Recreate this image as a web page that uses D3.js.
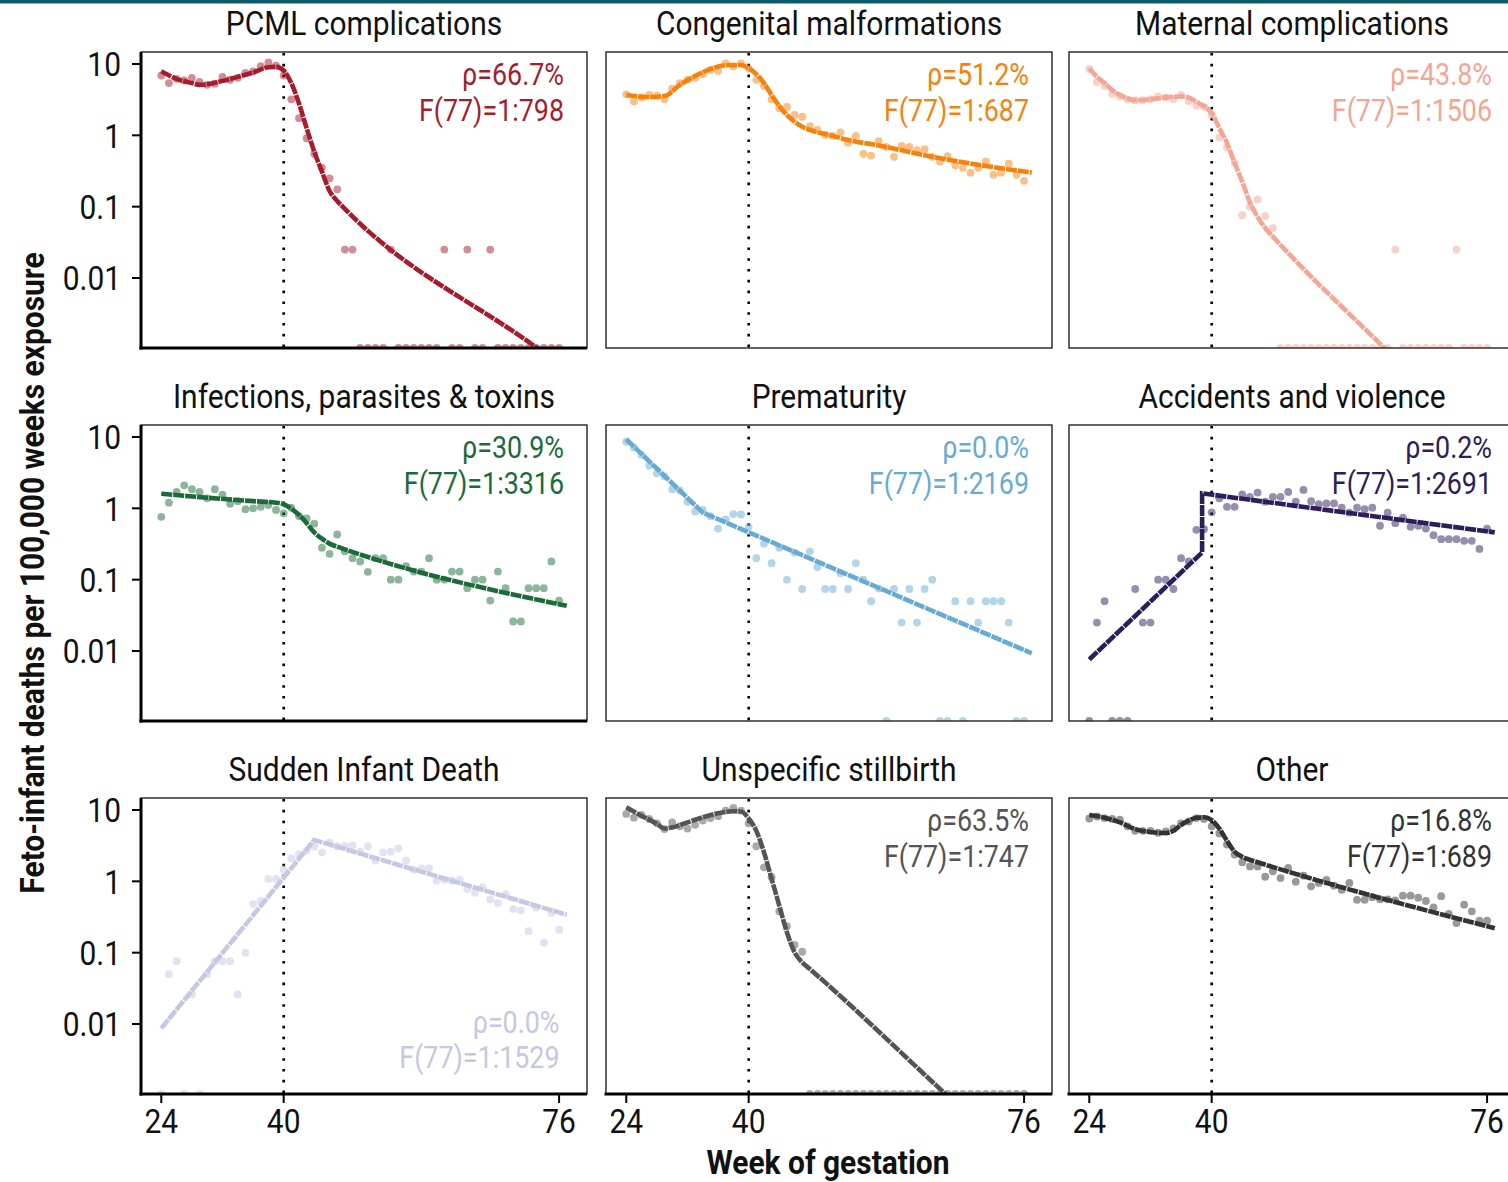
<!DOCTYPE html>
<html><head><meta charset="utf-8">
<script src="https://cdn.jsdelivr.net/npm/d3@7"></script>
<style>
body{margin:0;background:#fff}
text{font-family:Roboto,"Noto Sans",sans-serif}
</style>
</head><body>
<svg id="chart" width="1508" height="1182"></svg>
<script>
// ---------- data ----------
const weeks = [24,25,26,27,28,29,30,31,32,33,34,35,36,37,38,39,40,41,42,43,44,45,46,47,48,49,50,
  51,52,53,54,55,56,57,58,59,60,61,62,63,64,65,66,67,68,69,70,71,72,73,74,75,76];
const titles = ["PCML complications","Congenital malformations","Maternal complications",
  "Infections, parasites & toxins","Prematurity","Accidents and violence",
  "Sudden Infant Death","Unspecific stillbirth","Other"];
const rhoLabels = ["ρ=66.7%","ρ=51.2%","ρ=43.8%","ρ=30.9%","ρ=0.0%","ρ=0.2%","ρ=0.0%","ρ=63.5%","ρ=16.8%"];
const fLabels = ["F(77)=1:798","F(77)=1:687","F(77)=1:1506","F(77)=1:3316","F(77)=1:2169",
  "F(77)=1:2691","F(77)=1:1529","F(77)=1:747","F(77)=1:689"];
const yTicks = [0.01,0.1,1,10];
const yTickLabels = ["0.01","0.1","1","10"];
const xTicks = [24,40,76];
const xTickLabels = ["24","40","76"];

const pcmlPoints = [6.9,5.4,6.2,5.9,6.4,5.6,5.1,5.3,6.6,6.0,6.4,7.5,7.9,9.3,10.5,9.5,6.9,3.2,1.74,0.91,
  0.55,0.35,0.25,0.175,0.025,0.025,0,0,0,0,0.025,0,0,0,0,0,0,0.025,0,0,0.025,0,0,0.025,0,0,0,0,0,0,0,0,0];
const congenitalPoints = [3.76,3.0,3.4,3.7,3.6,3.2,4.5,5.4,6.0,6.4,7.2,8.2,8.0,10.2,9.2,10.2,8.7,6.0,4.9,3.2,
  2.4,2.5,1.93,1.82,1.35,1.19,1.01,0.98,1.10,0.79,0.98,0.55,0.52,0.83,0.69,0.50,0.71,0.69,0.62,0.64,
  0.50,0.43,0.51,0.38,0.35,0.30,0.35,0.43,0.28,0.30,0.40,0.28,0.23];
const maternalPoints = [8.5,5.6,4.9,3.8,3.5,3.2,3.1,3.1,3.2,3.5,3.4,3.2,3.7,3.0,2.6,2.5,1.93,0.93,0.68,0.41,
  0.076,0.10,0.126,0.074,0.050,0,0,0,0,0,0,0,0,0,0,0,0,0,0,0,0.025,0,0,0,0,0,0,0,0.025,0,0,0,0];
const infectionsPoints = [0.76,1.2,1.70,2.1,1.85,1.7,1.38,1.85,1.55,1.16,1.26,0.97,1.0,1.05,1.11,0.95,0.85,1.02,0.78,0.72,
  0.61,0.28,0.23,0.43,0.25,0.20,0.18,0.129,0.20,0.20,0.10,0.10,0.155,0.13,0.13,0.20,0.10,0.10,0.13,0.13,
  0.076,0.10,0.10,0.051,0.13,0.076,0.026,0.026,0.076,0.076,0.076,0.18,0.051];
const prematurityPoints = [8.6,7.1,5.6,3.96,3.1,2.8,1.85,1.78,1.24,0.90,0.95,0.78,0.52,0.70,0.83,0.82,0.55,0.20,0.32,0.17,
  0.28,0.10,0.24,0.074,0.25,0.15,0.074,0.074,0.123,0.074,0.17,0.10,0.050,0.075,0,0.074,0.025,0.074,0.025,0.074,
  0.10,0,0,0.05,0,0.05,0.025,0.05,0.05,0.05,0.025,0,0];
const accidentsPoints = [0,0.025,0.05,0,0,0,0.074,0.025,0.025,0.10,0.10,0.074,0.20,0.18,0.50,0.51,0.88,1.38,1.05,1.05,
  1.57,1.45,1.66,1.24,1.45,1.45,1.70,1.24,1.81,1.26,1.14,1.17,1.17,1.02,0.87,1.02,0.97,1.02,0.57,0.87,
  0.62,0.74,0.55,0.57,0.52,0.42,0.37,0.37,0.37,0.35,0.35,0.27,0.52];
const sidPoints = [0,0.050,0.076,0,0.026,0,0.05,0.076,0.076,0.076,0.026,0.10,0.48,0.53,1.08,1.08,1.47,2.1,2.4,2.7,
  3.06,2.55,3.5,3.1,3.15,3.2,2.6,3.1,1.95,2.55,2.6,2.9,1.95,1.46,1.52,1.52,1.02,1.05,1.02,1.05,
  0.78,0.69,0.83,0.56,0.50,0.66,0.41,0.39,0.20,0.43,0.138,0.36,0.21];
const unspecificPoints = [8.8,7.8,8.5,7.5,6.5,5.4,6.7,5.9,5.5,6.2,7.1,7.7,8.2,9.8,10.7,9.8,6.5,3.1,1.57,1.14,
  0.38,0.235,0.129,0.103,0,0,0,0,0,0,0,0,0,0,0,0,0,0,0,0,0,0,0,0,0,0,0,0,0,0,0,0,0];
const otherPoints = [7.6,8.1,7.7,7.5,7.3,5.9,5.1,5.1,5.1,4.8,5.0,5.5,6.5,6.9,7.7,7.5,5.9,4.7,3.27,2.37,
  1.85,1.62,1.62,1.16,1.38,1.11,1.54,0.99,1.2,0.85,0.95,1.05,0.87,0.76,0.95,0.55,0.55,0.60,0.56,0.56,
  0.54,0.63,0.63,0.59,0.53,0.43,0.62,0.35,0.26,0.47,0.38,0.28,0.28];

const pcmlFitWeeks = [24,26,28,29,30,32,34,36,38,39,40,41,42,43,44,45,46,47,48,73,77];
const pcmlFitValues = [7.9,6.2,5.4,5.1,5.2,5.8,6.6,7.6,9.0,9.1,8.1,5.4,2.8,1.26,0.59,0.31,0.166,0.12,0.093,0.00107,0.00052];
const congenitalFitWeeks = [24,27,29,31,33,35,37,39,40,41,42,43,44,45,46,47,48,49,50,53,57,64,77];
const congenitalFitValues = [3.67,3.44,3.55,5.1,6.8,8.5,9.6,9.7,8.7,7.2,5.4,3.67,2.57,1.93,1.55,1.32,1.19,1.10,1.04,0.86,0.72,0.50,0.30];
const maternalFitWeeks = [24,25,26,27,28,29,30,32,34,36,37,38,39,40,41,42,43,44,45,46,47,48,50,62,77];
const maternalFitValues = [8.7,6.6,5.4,4.3,3.67,3.3,3.1,3.2,3.4,3.5,3.4,2.95,2.57,2.04,1.26,0.78,0.41,0.224,0.115,0.072,0.050,0.038,0.0224,0.0012,0.000032];
const infectionsFitWeeks = [24,30,36,39,40,41,42,43,44,45,46,47,48,77];
const infectionsFitValues = [1.6,1.41,1.26,1.2,1.14,0.99,0.81,0.62,0.46,0.376,0.32,0.29,0.266,0.043];
const prematurityFitWeeks = [24,34,77];
const prematurityFitValues = [9.3,0.87,0.0093];
const accidentsFitWeeks = [24,38.75,38.75,77];
const accidentsFitValues = [0.0076,0.24,1.62,0.46];
const sidFitWeeks = [24,44,77];
const sidFitValues = [0.0087,3.8,0.34];
const unspecificFitWeeks = [24,26,28,29,30,32,34,36,38,39,40,41,42,43,44,45,46,47,48,65.5,77];
const unspecificFitValues = [10.9,8.3,6.4,5.5,5.7,6.7,7.9,9.0,9.6,9.5,7.6,5.1,2.55,1.08,0.457,0.193,0.101,0.073,0.059,0.0011,0.00008];
const otherFitWeeks = [24,26,28,30,32,34,35,36,37,38,39,40,41,42,43,44,45,46,77];
const otherFitValues = [8.5,7.8,6.7,5.4,4.9,4.75,5.1,6.2,7.1,7.8,7.9,7.2,5.5,3.7,2.6,2.2,2.0,1.85,0.22];

const colors = ["#a51d2d","#f5820d","#f2a693","#1b6b3a","#67abd3","#2d1d5b","#c5c8e2","#545454","#333333"];

// ---------- layout ----------
const pointSets = [pcmlPoints,congenitalPoints,maternalPoints,infectionsPoints,prematurityPoints,
  accidentsPoints,sidPoints,unspecificPoints,otherPoints];
const fitWeekSets = [pcmlFitWeeks,congenitalFitWeeks,maternalFitWeeks,infectionsFitWeeks,prematurityFitWeeks,
  accidentsFitWeeks,sidFitWeeks,unspecificFitWeeks,otherFitWeeks];
const fitValueSets = [pcmlFitValues,congenitalFitValues,maternalFitValues,infectionsFitValues,prematurityFitValues,
  accidentsFitValues,sidFitValues,unspecificFitValues,otherFitValues];
const linearFits = new Set([4,5,6]);

const colLeft = [141,606,1069], rowTop = [52,425,798];
const W = 446, H = 296;
const FS = 34, AFS = 30.5, SX = 0.88;

const svg = d3.select("#chart");
svg.append("rect").attr("x",0).attr("y",0).attr("width",1508).attr("height",3.5).attr("fill","#0e5a68");

// condensed text helper: scales glyphs horizontally around the anchor point
function label(parent, px, py, str, opts){
  const t = parent.append("text")
    .attr("transform",`translate(${px},${py})${opts.rotate?` rotate(${opts.rotate})`:""} scale(${SX},1)`)
    .attr("x",0).attr("y",0)
    .attr("text-anchor",opts.anchor||"start")
    .attr("font-size",opts.size||FS)
    .attr("font-weight",opts.weight||"normal")
    .attr("fill",opts.fill||"#111")
    .text(str);
  if (opts.dy) t.attr("dy",opts.dy);
  return t;
}

const x = d3.scaleLinear().domain([21.35,79.65]).range([0,W]);
const y = d3.scaleLog().domain([Math.pow(10,-2.981),Math.pow(10,1.168)]).range([H,0]);
const yv = v => v > 0 ? y(v) : H;

titles.forEach((title,i)=>{
  const r = Math.floor(i/3), c = i%3;
  const g = svg.append("g").attr("transform",`translate(${colLeft[c]},${rowTop[r]})`);
  const col = colors[i];
  const cid = "clip"+i;
  g.append("clipPath").attr("id",cid).append("rect").attr("width",W).attr("height",H);

  label(g, W/2, -17, title, {anchor:"middle"});

  const plot = g.append("g").attr("clip-path",`url(#${cid})`);
  plot.append("line").attr("x1",x(40)).attr("x2",x(40)).attr("y1",1).attr("y2",H)
    .attr("stroke","#000").attr("stroke-width",2.6).attr("stroke-dasharray","2.6,8.2");
  plot.selectAll("circle").data(weeks.map((w,k)=>({w,v:pointSets[i][k]}))).join("circle")
    .attr("cx",d=>x(d.w)).attr("cy",d=>yv(d.v)).attr("r",3.9)
    .attr("fill",col).attr("fill-opacity",0.5);
  const fit = fitWeekSets[i].map((w,k)=>({w,v:fitValueSets[i][k]}));
  const line = d3.line().x(d=>x(d.w)).y(d=>y(d.v))
    .curve(linearFits.has(i) ? d3.curveLinear : d3.curveMonotoneX);
  plot.append("path").attr("d",line(fit)).attr("fill","none").attr("stroke",col)
    .attr("stroke-width",4.6).attr("stroke-dasharray","11,1");

  g.append("rect").attr("width",W).attr("height",H).attr("fill","none")
    .attr("stroke","#222").attr("stroke-width",1.4);
  if (c===0){
    g.append("line").attr("x1",0).attr("x2",0).attr("y1",0).attr("y2",H+1.5)
      .attr("stroke","#000").attr("stroke-width",3);
    yTicks.forEach((t,k)=>{
      g.append("line").attr("x1",-9).attr("x2",0).attr("y1",y(t)).attr("y2",y(t))
        .attr("stroke","#000").attr("stroke-width",2);
      label(g, -20, y(t), yTickLabels[k], {anchor:"end", dy:"0.36em"});
    });
  }
  if (c===0 || r===2){
    g.append("line").attr("x1",-1.5).attr("x2",W).attr("y1",H).attr("y2",H)
      .attr("stroke","#000").attr("stroke-width",3);
  }
  if (r===2){
    xTicks.forEach((t,k)=>{
      g.append("line").attr("x1",x(t)).attr("x2",x(t)).attr("y1",H).attr("y2",H+9)
        .attr("stroke","#000").attr("stroke-width",2);
      label(g, x(t), H+39, xTickLabels[k], {anchor:"middle"});
    });
  }
  const sidLike = (i===6);
  const ax = sidLike ? W-27.5 : W-23;
  const ay1 = sidLike ? 235 : 33, ay2 = sidLike ? 270 : 69;
  label(g, ax, ay1, rhoLabels[i], {anchor:"end", size:AFS, fill:col});
  label(g, ax, ay2, fLabels[i], {anchor:"end", size:AFS, fill:col});
});

label(svg, 44, 573, "Feto-infant deaths per 100,000 weeks exposure",
  {anchor:"middle", rotate:-90, weight:"bold", size:FS});
label(svg, 828, 1174, "Week of gestation", {anchor:"middle", weight:"bold", size:FS});
</script>
</body></html>
